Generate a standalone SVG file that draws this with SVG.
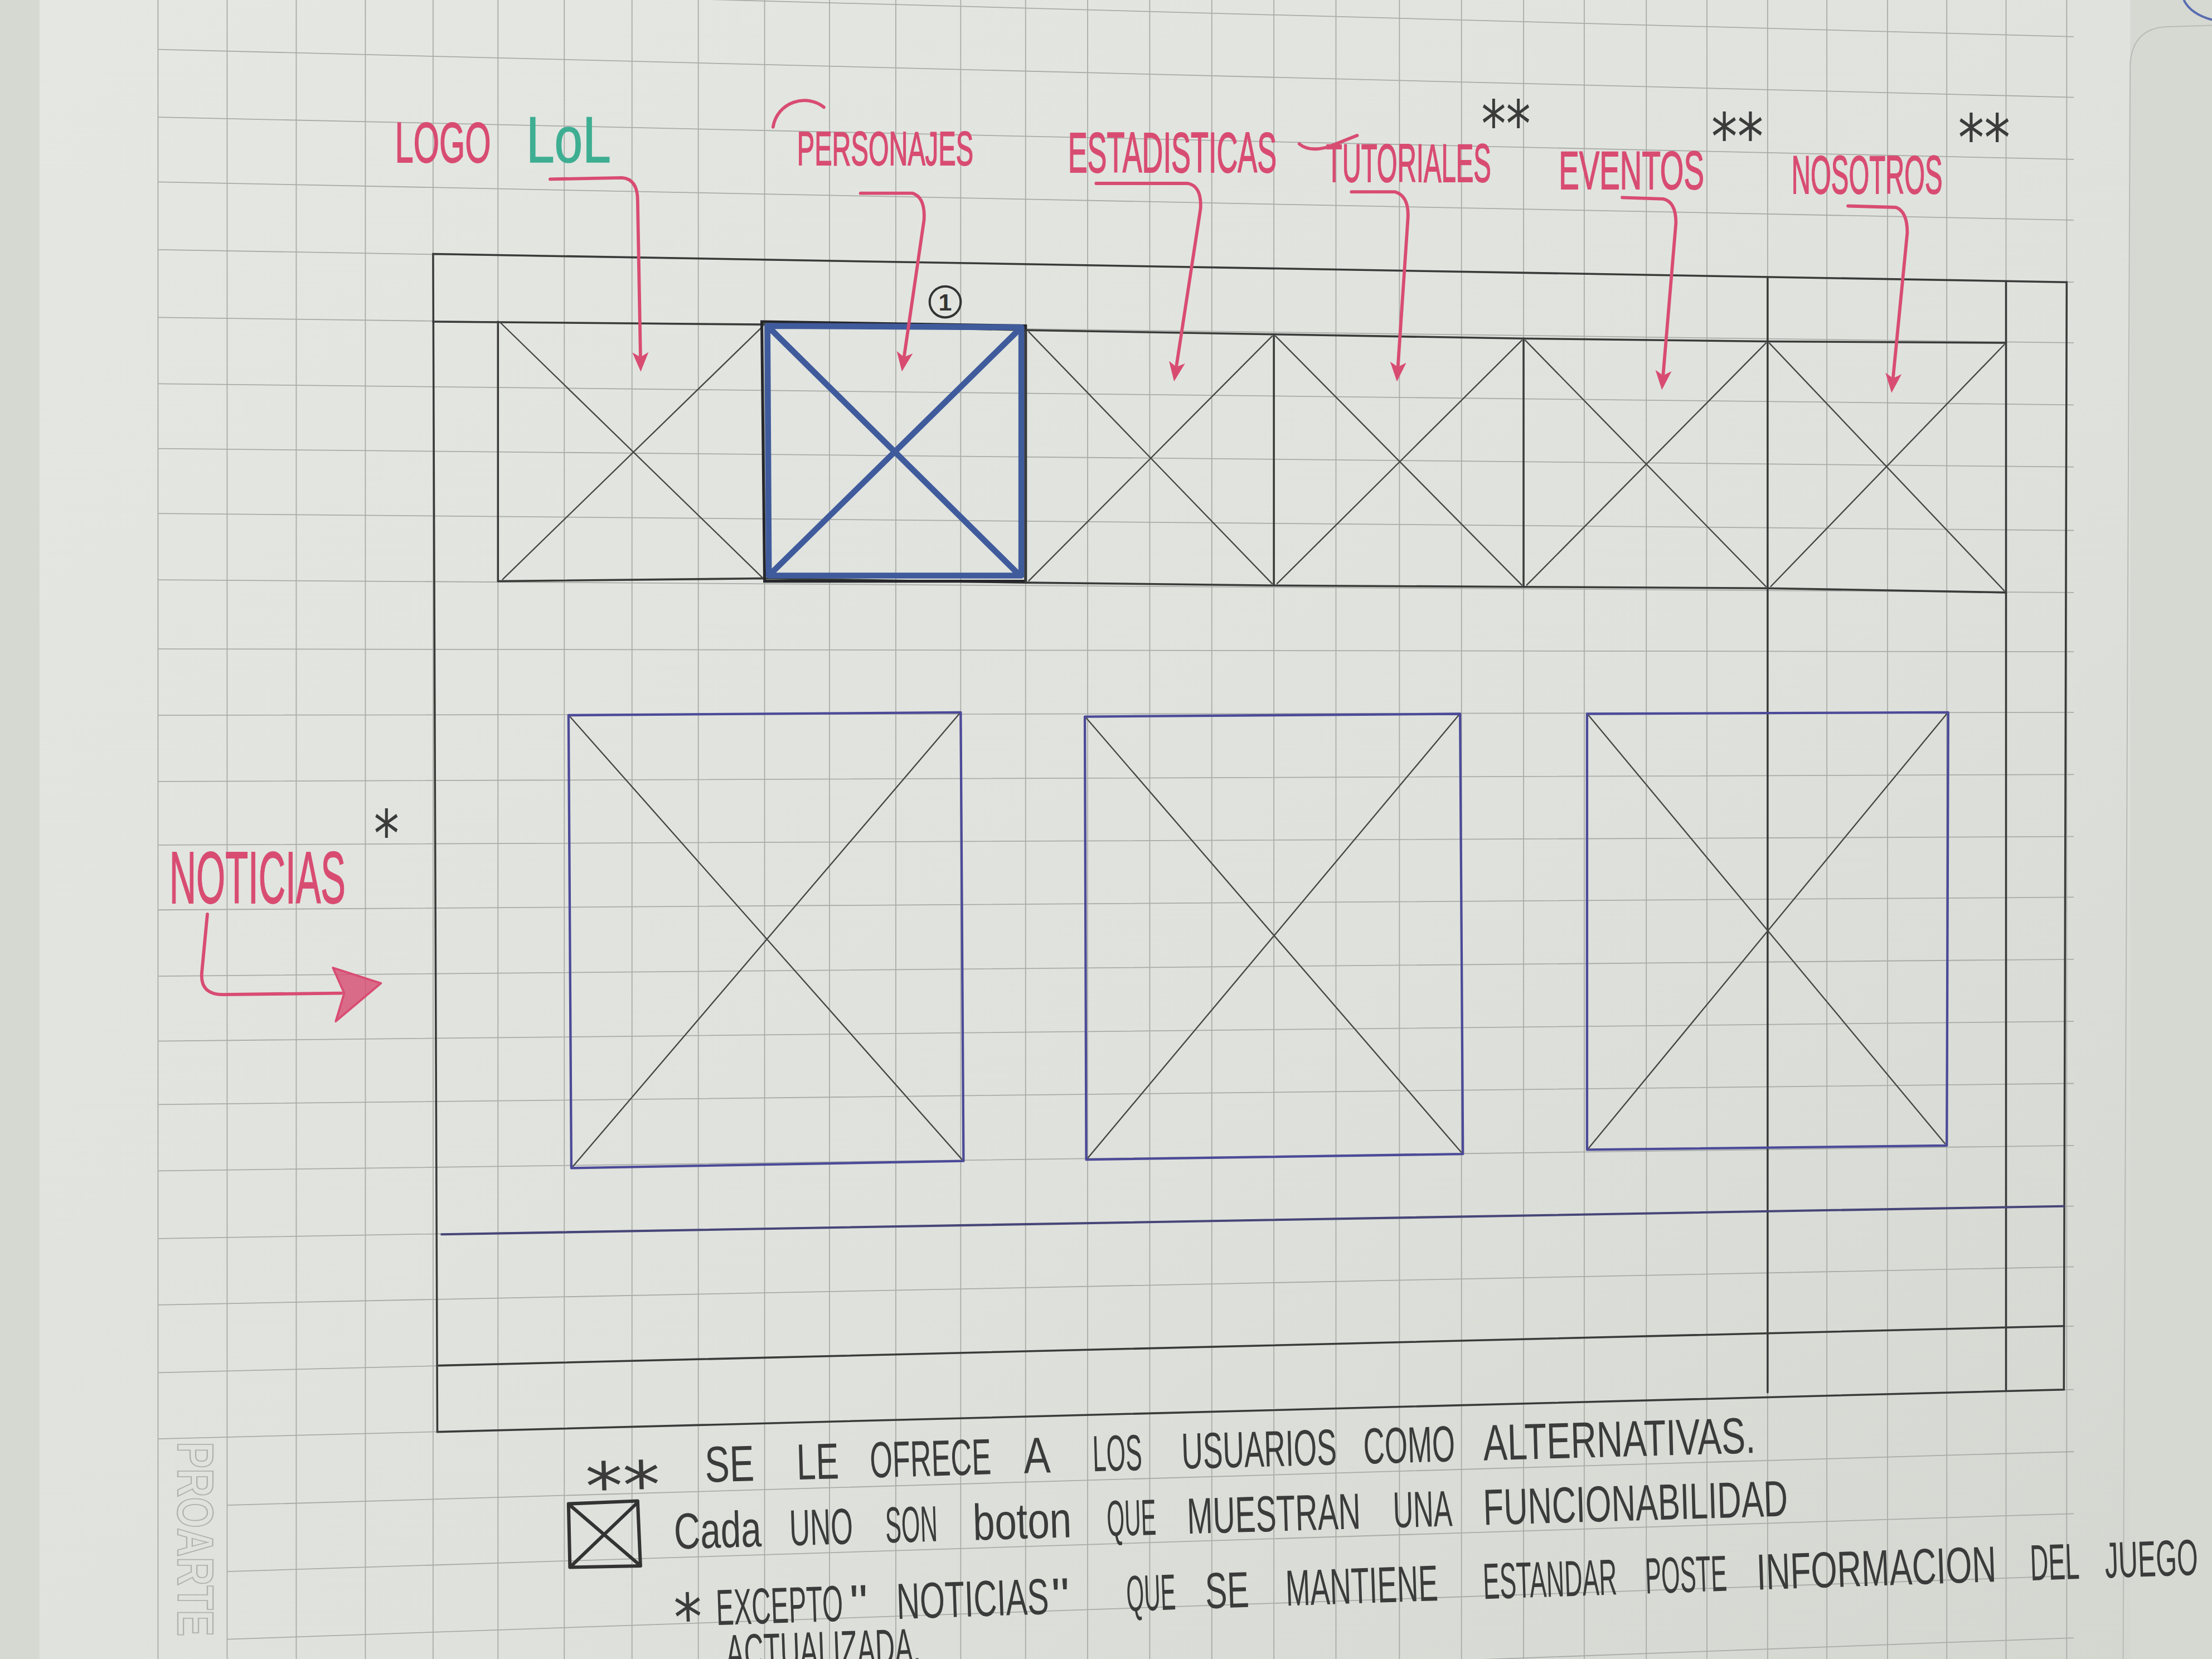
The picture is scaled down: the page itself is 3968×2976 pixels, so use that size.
<svg xmlns="http://www.w3.org/2000/svg" width="3968" height="2976" viewBox="0 0 3968 2976">
  <defs>
    <style>
      .grid{stroke:#a9aca7;stroke-width:0.7;fill:none}
      .frame{stroke:#3a3b3a;stroke-width:1.4;fill:none;stroke-linecap:round}
      .xl{stroke:#464746;stroke-width:0.95;fill:none}
      .cbox{stroke:#4b4a98;stroke-width:1.7;fill:none;stroke-linejoin:round}
      .pink{stroke:#d84c72;stroke-width:2.3;fill:none;stroke-linecap:round;stroke-linejoin:round}
      .ptext{fill:#d84c72;stroke:#d84c72;stroke-width:0.7;font-family:'Liberation Sans',Arial,sans-serif}
      .hand{fill:#3b3b3b;font-family:'Liberation Sans',Arial,sans-serif;font-size:36px}
      .star{fill:#3b3b3b;font-family:'DejaVu Sans',sans-serif;font-size:46px}
    </style>
    <linearGradient id="paper" x1="0" y1="0" x2="1" y2="1">
      <stop offset="0" stop-color="#e5e7e2"/>
      <stop offset="0.6" stop-color="#dfe1dc"/>
      <stop offset="1" stop-color="#d4d7d0"/>
    </linearGradient>
    <marker id="ah" viewBox="0 0 12 10" refX="2" refY="5" markerWidth="6" markerHeight="5.5" orient="auto" markerUnits="strokeWidth">
      <path d="M0,0 L12,5 L0,10 L3,5 z" fill="#d84c72"/>
    </marker>
  </defs>

  <g transform="scale(2.53061)">
    <!-- sheet -->
    <rect x="0" y="0" width="1568" height="1176" fill="#d6d9d2"/>
    <rect x="28" y="0" width="1482" height="1176" fill="url(#paper)"/>
    <path d="M1505,1176 L1510,45 Q1512,20 1536,19 L1568,18" fill="none" stroke="#b9bcb6" stroke-width="0.8"/>
    <path d="M1548,0 Q1553,10 1568,14" fill="none" stroke="#5a6db0" stroke-width="1.6"/>

    <!-- squared paper -->
    <g id="grid" class="grid">
      <path d="M112,0 V1176 M161,0 V1176 M210,0 V1176 M259,0 V1176 M307,0 V1176 M353,0 V1176 M400,0 V1176 M448,0 V1176 M495,0 V1176 M542,0 V1176 M588,0 V1176 M635,0 V1176 M681,0 V1176 M727,0 V1176 M771,0 V1176 M815,0 V1176 M859,0 V1176 M903,0 V1176 M947,0 V1176 M992,0 V1176 M1036,0 V1176 M1080,0 V1176 M1123,0 V1176 M1167,0 V1176 M1210,0 V1176 M1253,0 V1176 M1295,0 V1176 M1338,0 V1176 M1380,0 V1176 M1422,0 V1176 M1465,0 V1176"/>
      <path d="M112,-11 L1470,26 M112,35 L1470,69 M112,83 L1470,113 M112,129 L1470,156 M112,177 L1470,200 M112,225 L1470,243 M112,272 L1470,287 M112,318 L1470,331 M112,364 L1470,376 M112,411 L1470,420 M112,460 L1470,462 M112,507 L1470,505 M112,554 L1470,549 M112,599 L1470,593 M112,645 L1470,636 M112,692 L1470,680 M112,738 L1470,724 M112,783 L1470,768 M112,830 L1470,812 M112,878 L1470,855 M112,925 L1470,898 M112,973 L1470,940 M112,1020 L1470,985 M161,1067 L1470,1029 M161,1114 L1470,1073 M161,1162 L1470,1117 M161,1209 L1470,1161"/>
    </g>
    <text transform="translate(126,1022) rotate(90)" font-family="'Liberation Sans',Arial,sans-serif" font-size="36" font-weight="bold" fill="none" stroke="#b0b3ad" stroke-width="0.9" textLength="138" lengthAdjust="spacingAndGlyphs">PROARTE</text>

    <!-- page frame and bands -->
    <g id="frame" class="frame">
      <path d="M307,180 L1465,200 L1463,985 L310,1015 Z"/>
      <path d="M307,228 L542,230 L727,234 L903,237 L1080,240 L1253,242 L1422,243"/>
      <path d="M353,412 L542,410 L727,413 L903,415 L1080,416 L1253,417 L1422,420"/>
      <path d="M1253,197 L1253,987 M1422,200 L1422,985"/>
      <path d="M311,968 L1463,940"/>
      <path d="M313,875 L1463,855" stroke="#474678" stroke-width="1.6"/>
    </g>

    <!-- navigation buttons -->
    <g id="nav-logo">
      <path class="frame" d="M353,228 L353,412"/>
      <path class="xl" d="M355,229 L541,410 M541,231 L356,411"/>
    </g>
    <g id="nav-personajes">
      <path d="M540,228 L727,231 L727,412 L542,412 Z" fill="none" stroke="#26272b" stroke-width="2"/>
      <path d="M544,231 L724,232 L724,408 L545,408 Z M545,232 L723,408 M723,233 L546,407" fill="none" stroke="#3f5b9c" stroke-width="4.2" stroke-linejoin="round"/>
      <circle cx="670" cy="214" r="11" fill="none" stroke="#333" stroke-width="1.6"/>
      <text x="670" y="220" text-anchor="middle" font-family="'Liberation Sans',Arial,sans-serif" font-size="17" font-weight="bold" fill="#333">1</text>
    </g>
    <g id="nav-estadisticas">
      <path class="frame" d="M727,234 L727,413"/>
      <path class="xl" d="M729,235 L902,414 M902,238 L729,412"/>
    </g>
    <g id="nav-tutoriales">
      <path class="frame" d="M903,237 L903,415"/>
      <path class="xl" d="M904,238 L1079,415 M1079,241 L905,414"/>
    </g>
    <g id="nav-eventos">
      <path class="frame" d="M1080,240 L1080,416"/>
      <path class="xl" d="M1081,241 L1252,416 M1252,243 L1082,415"/>
    </g>
    <g id="nav-nosotros">
      <path class="xl" d="M1254,243 L1421,419 M1421,244 L1255,416"/>
    </g>

    <!-- news cards -->
    <g id="news-1">
      <path class="cbox" d="M403,507 L681,505 L683,823 L405,828 Z"/>
      <path class="xl" d="M404,508 L682,822 M680,506 L406,827"/>
    </g>
    <g id="news-2">
      <path class="cbox" d="M769,508 L1035,506 L1037,818 L770,822 Z"/>
      <path class="xl" d="M770,509 L1036,817 M1034,507 L771,821"/>
    </g>
    <g id="news-3">
      <path class="cbox" d="M1125,506 L1381,505 L1380,812 L1125,815 Z"/>
      <path class="xl" d="M1126,507 L1379,811 M1380,506 L1126,814"/>
    </g>

    <!-- labels -->
    <g id="labels">
      <text class="ptext" x="280" y="115" font-size="40" textLength="68" lengthAdjust="spacingAndGlyphs">LOGO</text>
      <text x="373" y="115" font-family="'Liberation Sans',Arial,sans-serif" font-size="46" fill="#3eae92" stroke="#3eae92" stroke-width="0.6" textLength="60" lengthAdjust="spacingAndGlyphs">LoL</text>
      <path class="pink" d="M548,90 C551,72 572,66 584,76"/>
      <text class="ptext" x="565" y="117" font-size="34" textLength="125" lengthAdjust="spacingAndGlyphs">PERSONAJES</text>
      <text class="ptext" x="757" y="122" font-size="40" textLength="148" lengthAdjust="spacingAndGlyphs">ESTADISTICAS</text>
      <path class="pink" d="M921,102 Q928,108 942,104 L962,96"/>
      <text class="ptext" x="940" y="129" font-size="38" textLength="117" lengthAdjust="spacingAndGlyphs">TUTORIALES</text>
      <text class="ptext" x="1105" y="134" font-size="38" textLength="103" lengthAdjust="spacingAndGlyphs">EVENTOS</text>
      <text class="ptext" x="1270" y="137" font-size="38" textLength="107" lengthAdjust="spacingAndGlyphs">NOSOTROS</text>
      <text class="star" x="1050" y="104" textLength="35" lengthAdjust="spacingAndGlyphs">**</text>
      <text class="star" x="1213" y="113" textLength="37" lengthAdjust="spacingAndGlyphs">**</text>
      <text class="star" x="1388" y="114" textLength="37" lengthAdjust="spacingAndGlyphs">**</text>
      <text class="ptext" x="120" y="640" font-size="52" textLength="125" lengthAdjust="spacingAndGlyphs">NOTICIAS</text>
      <text class="star" x="265" y="607" textLength="18" lengthAdjust="spacingAndGlyphs">*</text>
    </g>

    <!-- arrows -->
    <g id="connectors">
      <path class="pink" marker-end="url(#ah)" d="M390,127 L441,126 Q452,127 452,142 L454,252"/>
      <path class="pink" marker-end="url(#ah)" d="M610,137 L647,137 Q656,140 655,156 L641,252"/>
      <path class="pink" marker-end="url(#ah)" d="M777,130 L842,130 Q852,132 851,148 L834,259"/>
      <path class="pink" marker-end="url(#ah)" d="M958,136 L989,136 Q999,139 998,155 L991,259"/>
      <path class="pink" marker-end="url(#ah)" d="M1150,140 L1179,141 Q1188,143 1188,158 L1179,265"/>
      <path class="pink" marker-end="url(#ah)" d="M1310,146 L1344,147 Q1352,150 1352,165 L1342,267"/>
      <path class="pink" d="M147,648 L143,690 Q142,705 158,705 L242,704"/>
      <path d="M236,686 L270,697 L238,724 L244,704 Z" fill="#d84c72" fill-opacity="0.8" stroke="#d84c72" stroke-width="1.5" stroke-linejoin="round"/>
    </g>

    <!-- notes -->
    <g id="notes">
      <g transform="translate(415,1053) rotate(-1.6)">
        <text class="star" x="0" y="17" textLength="53" lengthAdjust="spacingAndGlyphs">**</text>
        <text class="hand" x="85" y="0" textLength="35" lengthAdjust="spacingAndGlyphs">SE</text>
        <text class="hand" x="150" y="0" textLength="30" lengthAdjust="spacingAndGlyphs">LE</text>
        <text class="hand" x="202" y="0" textLength="86" lengthAdjust="spacingAndGlyphs">OFRECE</text>
        <text class="hand" x="311" y="0" textLength="19" lengthAdjust="spacingAndGlyphs">A</text>
        <text class="hand" x="360" y="0" textLength="35" lengthAdjust="spacingAndGlyphs">LOS</text>
        <text class="hand" x="423" y="0" textLength="110" lengthAdjust="spacingAndGlyphs">USUARIOS</text>
        <text class="hand" x="552" y="0" textLength="65" lengthAdjust="spacingAndGlyphs">COMO</text>
        <text class="hand" x="637" y="0" textLength="193" lengthAdjust="spacingAndGlyphs">ALTERNATIVAS.</text>
      </g>
      <g id="legend-icon">
        <path d="M403,1066 L452,1064 L454,1110 L404,1111 Z M404,1067 L453,1109 M452,1065 L405,1110" fill="none" stroke="#333" stroke-width="2.4" stroke-linejoin="round"/>
      </g>
      <g transform="translate(478,1098) rotate(-1.7)">
        <text class="hand" x="0" y="0" textLength="62" lengthAdjust="spacingAndGlyphs">Cada</text>
        <text class="hand" x="82" y="0" textLength="45" lengthAdjust="spacingAndGlyphs">UNO</text>
        <text class="hand" x="150" y="0" textLength="37" lengthAdjust="spacingAndGlyphs">SON</text>
        <text class="hand" x="212" y="0" textLength="70" lengthAdjust="spacingAndGlyphs">boton</text>
        <text class="hand" x="307" y="0" textLength="35" lengthAdjust="spacingAndGlyphs">QUE</text>
        <text class="hand" x="364" y="0" textLength="123" lengthAdjust="spacingAndGlyphs">MUESTRAN</text>
        <text class="hand" x="510" y="0" textLength="42" lengthAdjust="spacingAndGlyphs">UNA</text>
        <text class="hand" x="574" y="0" textLength="216" lengthAdjust="spacingAndGlyphs">FUNCIONABILIDAD</text>
      </g>
      <g transform="translate(478,1153) rotate(-1.95)">
        <text class="star" x="0" y="10" font-size="40" textLength="20" lengthAdjust="spacingAndGlyphs">*</text>
        <text class="hand" x="30" y="0" textLength="90" lengthAdjust="spacingAndGlyphs">EXCEPTO</text>
        <text class="hand" x="125" y="0">"</text>
        <text class="hand" x="158" y="0" textLength="108" lengthAdjust="spacingAndGlyphs">NOTICIAS</text>
        <text class="hand" x="268" y="0">"</text>
        <text class="hand" x="321" y="0" textLength="35" lengthAdjust="spacingAndGlyphs">QUE</text>
        <text class="hand" x="377" y="0" textLength="31" lengthAdjust="spacingAndGlyphs">SE</text>
        <text class="hand" x="434" y="0" textLength="108" lengthAdjust="spacingAndGlyphs">MANTIENE</text>
        <text class="hand" x="574" y="0" textLength="95" lengthAdjust="spacingAndGlyphs">ESTANDAR</text>
        <text class="hand" x="689" y="0" textLength="58" lengthAdjust="spacingAndGlyphs">POSTE</text>
        <text class="hand" x="768" y="0" textLength="170" lengthAdjust="spacingAndGlyphs">INFORMACION</text>
        <text class="hand" x="962" y="0" textLength="35" lengthAdjust="spacingAndGlyphs">DEL</text>
        <text class="hand" x="1015" y="0" textLength="66" lengthAdjust="spacingAndGlyphs">JUEGO</text>
      </g>
      <g transform="translate(515,1184) rotate(-2)">
        <text class="hand" x="0" y="0" font-size="30" textLength="138" lengthAdjust="spacingAndGlyphs">ACTUALIZADA.</text>
      </g>
    </g>
  </g>
</svg>
